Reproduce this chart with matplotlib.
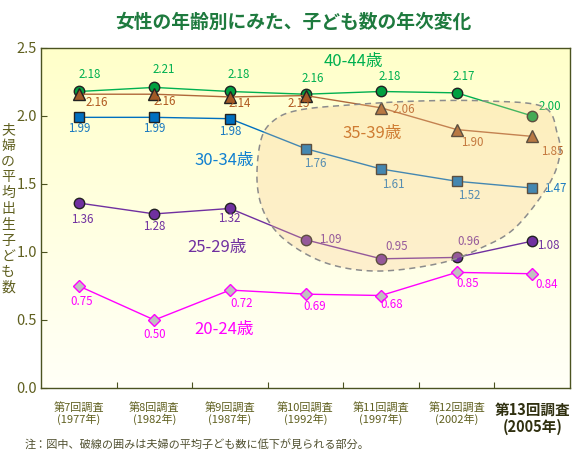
import numpy as np
import matplotlib
matplotlib.use("Agg")
import matplotlib.pyplot as plt
from matplotlib.patches import Polygon

plt.rcParams['font.family'] = ['Noto Sans CJK JP', 'DejaVu Sans']

# %% data
surveys = ['第7回調査', '第8回調査', '第9回調査', '第10回調査', '第11回調査', '第12回調査', '第13回調査']
years = ['(1977年)', '(1982年)', '(1987年)', '(1992年)', '(1997年)', '(2002年)', '(2005年)']

age_20_24 = [0.75, 0.50, 0.72, 0.69, 0.68, 0.85, 0.84]
age_25_29 = [1.36, 1.28, 1.32, 1.09, 0.95, 0.96, 1.08]
age_30_34 = [1.99, 1.99, 1.98, 1.76, 1.61, 1.52, 1.47]
age_35_39 = [2.16, 2.16, 2.14, 2.15, 2.06, 1.90, 1.85]
age_40_44 = [2.18, 2.21, 2.18, 2.16, 2.18, 2.17, 2.00]

# outline of the dashed "decline" region (data coords)
blob_x = [2.41, 2.59, 2.92, 3.58, 4.50, 5.42, 6.15, 6.33, 6.36, 6.20,
          5.77, 5.32, 4.79, 3.98, 3.31, 2.78, 2.48, 2.36]
blob_y = [1.824, 1.971, 2.044, 2.081, 2.110, 2.110, 2.066, 1.875, 1.699, 1.478,
          1.176, 1.029, 0.919, 0.860, 0.912, 1.066, 1.257, 1.507]

x = np.arange(len(surveys))


def closed_spline(px, py, n=24):
    P = np.column_stack([px, py])
    N = len(P)
    t = np.linspace(0, 1, n, endpoint=False)[:, None]
    out = []
    for i in range(N):
        p0, p1, p2, p3 = P[i - 1], P[i], P[(i + 1) % N], P[(i + 2) % N]
        out.append(0.5 * ((2 * p1) + (-p0 + p2) * t
                          + (2 * p0 - 5 * p1 + 4 * p2 - p3) * t ** 2
                          + (-p0 + 3 * p1 - 3 * p2 + p3) * t ** 3))
    return np.vstack(out)


# %% figure
fig = plt.figure(figsize=(5.73, 4.53), dpi=100)
ax = fig.add_axes([0.0716, 0.1435, 0.9232, 0.7506])
ax.set_xlim(-0.5, 6.5)
ax.set_ylim(0, 2.5)

# background gradient: pale yellow at the top fading to near white
grad = np.linspace(0, 1, 256)
bg = np.ones((256, 1, 3))
bg[:, 0, 2] = 0.79 + 0.18 * grad
ax.imshow(bg, extent=[-0.5, 6.5, 0, 2.5], aspect='auto', origin='upper', zorder=0)

series = [
    (age_40_44, '#00B050', 'o', '#00A040', 7.5, '#00B050'),
    (age_35_39, '#B0683A', '^', '#A05A28', 8, '#B05A20'),
    (age_30_34, '#0070C0', 's', '#0070C0', 6.5, '#1878C0'),
    (age_25_29, '#7030A0', 'o', '#7030A0', 7.5, '#7030A0'),
    (age_20_24, '#FF00FF', 'D', '#C0C0C0', 6.5, '#FF00FF'),
]
for vals, lc, mk, mfc, ms, tc in series:
    mec = '#FF00FF' if mk == 'D' else '#222222'
    ax.plot(x, vals, color=lc, lw=1.0, marker=mk, ms=ms, mfc=mfc, mec=mec, mew=1.0, zorder=3)

# value labels: pixel offsets per point
offs = {
    0: [(11, 17), (9, 18), (9, 17), (7, 16), (9, 15), (7, 16), (18, 9)],
    1: [(18, -8), (10, -7), (10, -7), (-7, -8), (23, -2), (16, -13), (20, -15)],
    2: [(0, -11), (0, -11), (0, -13), (10, -15), (12, -15), (13, -14), (23, 0)],
    3: [(3, -16), (0, -13), (-1, -10), (25, 0), (16, 12), (12, 16), (16, -4)],
    4: [(3, -16), (0, -15), (12, -13), (9, -12), (11, -9), (11, -11), (14, -11)],
}
for k, (vals, lc, mk, mfc, ms, tc) in enumerate(series):
    for i, v in enumerate(vals):
        ax.annotate(f'{v:.2f}', (x[i], v), xytext=offs[k][i], textcoords='offset pixels',
                    ha='center', va='center', fontsize=8.3, color=tc, zorder=4)

# series names
names = [('40-44歳', 3.63, 2.40, '#00B050'), ('35-39歳', 3.88, 1.87, '#C06010'),
         ('30-34歳', 1.92, 1.67, '#1080D0'), ('25-29歳', 1.83, 1.03, '#7030A0'),
         ('20-24歳', 1.92, 0.43, '#FF00FF')]
for txt, nx, ny, c in names:
    ax.text(nx, ny, txt, fontsize=12, color=c, ha='center', va='center', zorder=4)

# dashed decline region
pts = closed_spline(blob_x, blob_y)
ax.add_patch(Polygon(pts, closed=True, facecolor='#F8C68C', alpha=0.28, edgecolor='none', zorder=5))
ax.add_patch(Polygon(pts, closed=True, facecolor='none', edgecolor='#8C8C8C', lw=1.1,
                     ls=(0, (4, 3)), zorder=6))

# axes styling
for s in ax.spines.values():
    s.set_color('#4B5320')
    s.set_linewidth(1.0)
ax.set_yticks([0, 0.5, 1.0, 1.5, 2.0, 2.5])
ax.set_yticklabels(['0.0', '0.5', '1.0', '1.5', '2.0', '2.5'])
ax.tick_params(axis='y', direction='in', length=4, color='#4B5320', labelsize=10.5,
               labelcolor='#606020', pad=3)
ax.set_xticks(np.arange(0.5, 6.5, 1.0))
ax.set_xticklabels([])
ax.tick_params(axis='x', which='major', direction='in', length=4, color='#4B5320')
ax.set_xticks(x, minor=True)
ax.set_xticklabels([f'{s}\n{y}' for s, y in zip(surveys, years)], minor=True)
ax.tick_params(axis='x', which='minor', length=0, labelsize=8, labelcolor='#606020', pad=10)
last = ax.get_xticklabels(minor=True)[-1]
last.set_fontsize(10.5)
last.set_fontweight('bold')
last.set_color('#303010')
for lab in ax.get_xticklabels(minor=True):
    lab.set_linespacing(1.05)

# vertical y label, one char per row
ylab = '夫婦の平均出生子ども数'
for i, ch in enumerate(ylab):
    fig.text(8 / 573, 1 - (130 + i * 15.8) / 453, ch, fontsize=10, color='#606020',
             ha='center', va='center')

fig.text(0.511, 0.951, '女性の年齢別にみた、子ども数の年次変化', fontsize=13.5, color='#1E7A3E',
         ha='center', va='center', fontweight='bold')
fig.text(25 / 573, 1 - 444 / 453, '注：図中、破線の囲みは夫婦の平均子ども数に低下が見られる部分。',
         fontsize=8, color='#505030', ha='left', va='center')

fig.savefig('out.png', dpi=100)
